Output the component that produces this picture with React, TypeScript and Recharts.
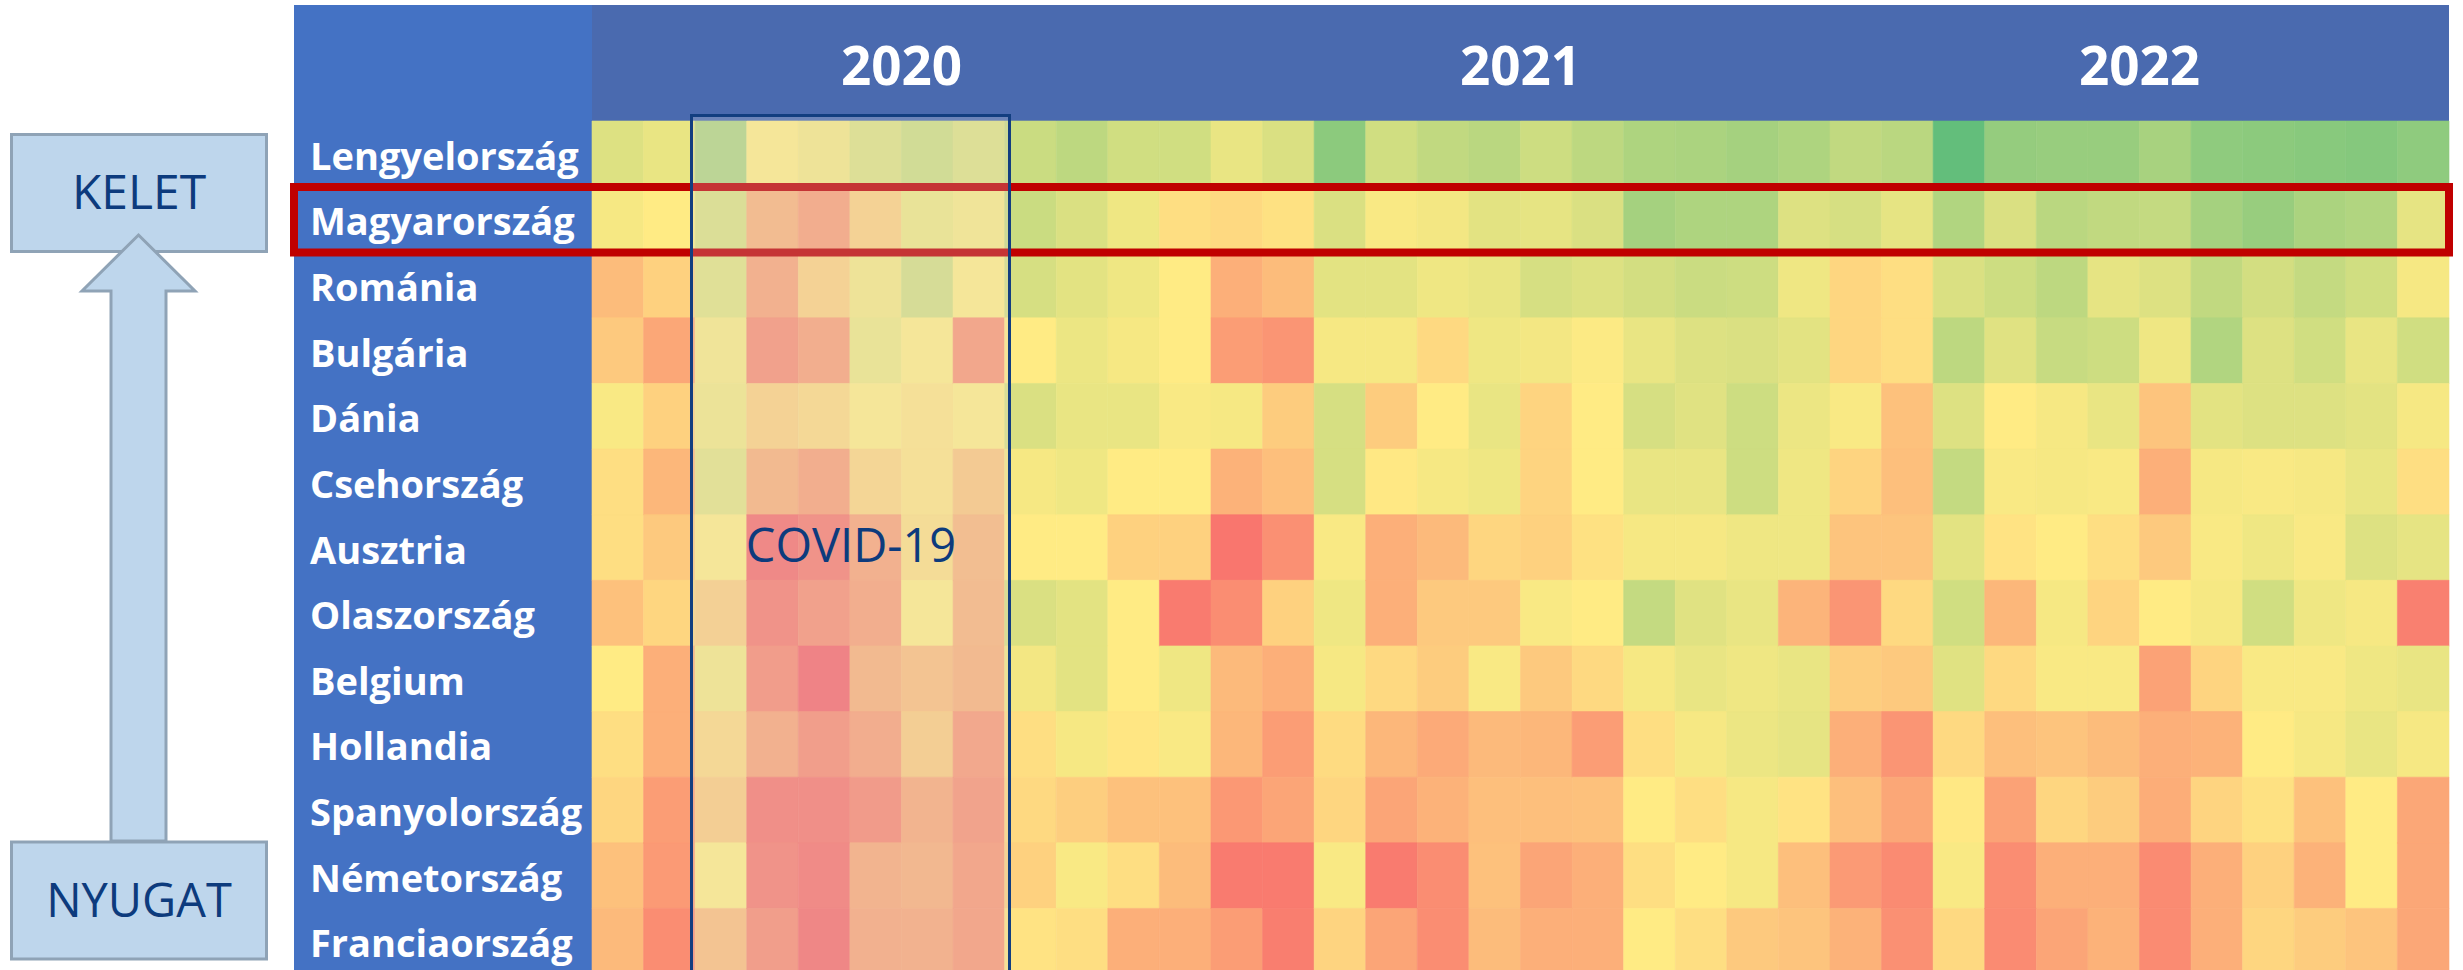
import { Bar, BarChart, Cell, XAxis, YAxis } from 'recharts';

const countries = [
  'Lengyelország',
  'Magyarország',
  'Románia',
  'Bulgária',
  'Dánia',
  'Csehország',
  'Ausztria',
  'Olaszország',
  'Belgium',
  'Hollandia',
  'Spanyolország',
  'Németország',
  'Franciaország',
];

const years = ['2020', '2021', '2022'];
const yearTicks = [6, 18, 30];

// 0 = red, 50 = yellow, 100 = green, Jan 2020 .. Dec 2022
const lengyelorszag = [61, 57, 74, 50, 53, 60, 65, 60, 67, 71, 65, 65, 57, 62, 87, 65, 70, 72, 66, 71, 76, 77, 79, 76, 70, 72, 100, 84, 83, 83, 78, 86, 87, 88, 89, 86];
const magyarorszag = [53, 50, 61, 29, 21, 40, 55, 52, 67, 62, 55, 45, 43, 46, 62, 52, 54, 59, 58, 62, 79, 76, 76, 61, 63, 58, 75, 62, 72, 70, 69, 79, 83, 77, 75, 58];
const romania = [32, 40, 59, 23, 40, 53, 63, 50, 63, 59, 55, 50, 27, 32, 59, 59, 55, 57, 63, 61, 64, 67, 66, 55, 42, 45, 62, 66, 71, 58, 61, 70, 64, 69, 65, 53];
const bulgaria = [37, 24, 52, 15, 22, 55, 50, 18, 50, 56, 53, 50, 20, 17, 53, 53, 43, 55, 54, 51, 57, 61, 62, 59, 42, 45, 71, 60, 68, 66, 55, 75, 61, 65, 57, 65];
const dania = [52, 40, 54, 40, 43, 50, 47, 50, 62, 57, 57, 52, 53, 38, 63, 38, 50, 57, 41, 50, 63, 60, 66, 56, 52, 34, 61, 50, 53, 57, 35, 59, 61, 61, 59, 53];
const csehorszag = [45, 30, 58, 28, 22, 42, 47, 36, 53, 55, 50, 50, 28, 33, 63, 49, 53, 55, 41, 50, 57, 57, 66, 55, 41, 33, 69, 52, 53, 52, 27, 53, 52, 53, 57, 45];
const ausztria = [45, 37, 50, 3, 8, 23, 45, 30, 50, 50, 40, 40, 5, 15, 52, 27, 31, 42, 40, 46, 53, 53, 55, 55, 35, 35, 59, 47, 50, 45, 37, 52, 55, 52, 61, 58];
const olaszorszag = [34, 42, 39, 8, 15, 22, 50, 29, 62, 59, 50, 7, 14, 40, 55, 27, 37, 37, 52, 50, 69, 60, 57, 29, 17, 43, 65, 30, 53, 41, 50, 53, 65, 55, 53, 9];
const belgium = [50, 27, 53, 13, 0, 28, 33, 28, 54, 59, 50, 55, 31, 27, 53, 43, 38, 52, 37, 43, 53, 57, 55, 57, 39, 37, 60, 43, 52, 52, 22, 41, 52, 52, 55, 57];
const hollandia = [45, 27, 43, 23, 14, 21, 38, 19, 45, 53, 48, 52, 30, 20, 44, 30, 25, 31, 30, 20, 45, 53, 56, 58, 27, 17, 43, 33, 35, 32, 27, 28, 50, 53, 57, 53];
const spanyolorszag = [42, 20, 38, 6, 6, 12, 25, 16, 43, 39, 34, 34, 18, 23, 42, 23, 28, 33, 33, 34, 50, 45, 53, 47, 33, 24, 49, 22, 42, 38, 26, 41, 46, 34, 50, 24];
const nemetorszag = [34, 19, 50, 8, 4, 25, 27, 18, 40, 52, 45, 32, 7, 7, 52, 7, 14, 34, 23, 27, 45, 50, 53, 33, 19, 13, 52, 14, 27, 27, 13, 27, 40, 28, 50, 24];
const franciaorszag = [31, 14, 33, 14, 2, 23, 24, 18, 47, 45, 27, 27, 20, 8, 41, 23, 14, 32, 27, 27, 50, 45, 37, 35, 28, 15, 43, 13, 23, 28, 13, 27, 42, 38, 35, 24];

const heatRows = [
  lengyelorszag, magyarorszag, romania, bulgaria, dania, csehorszag, ausztria,
  olaszorszag, belgium, hollandia, spanyolorszag, nemetorszag, franciaorszag,
];

const monthKeys = lengyelorszag.map((_, i) => `m${i}`);

const RED = [248, 105, 107];
const YELLOW = [255, 235, 132];
const GREEN = [99, 190, 123];

function heatColor(v: number) {
  const [a, b, t] = v < 50 ? [RED, YELLOW, v / 50] : [YELLOW, GREEN, (v - 50) / 50];
  const c = a.map((x, i) => Math.round(x + (b[i] - x) * t));
  return `rgb(${c.join(',')})`;
}

const chartData = countries.map((country) => {
  const row: Record<string, string | number> = { country };
  monthKeys.forEach((k) => (row[k] = 1));
  return row;
});

const FONT = "'Open Sans', 'Noto Sans', sans-serif";
const NAVY = '#0D3B7D';

function CountryTick({ y, payload }: any) {
  return (
    <text x={310} y={y + 16} fill="#fff" fontSize={38} fontWeight={700} fontFamily={FONT}>
      {payload.value}
    </text>
  );
}

function YearTick({ x, payload }: any) {
  return (
    <text x={x} y={85} fill="#fff" fontSize={53} fontWeight={700} fontFamily={FONT} textAnchor="middle">
      {years[yearTicks.indexOf(payload.value)]}
    </text>
  );
}

export default function App() {
  return (
    <div
      style={{
        position: 'fixed',
        left: 0,
        top: 0,
        width: 2463,
        height: 970,
        overflow: 'hidden',
        background: '#fff',
      }}
    >
      <div style={{ position: 'absolute', left: 294, top: 5, width: 298, height: 970, background: '#4472C4' }} />
      <div style={{ position: 'absolute', left: 592, top: 5, width: 1857, height: 116, background: '#4A6AAF' }} />
      <div style={{ position: 'absolute', left: 0, top: 0 }}>
        <BarChart
          width={2463}
          height={974}
          data={chartData}
          layout="vertical"
          barCategoryGap={0}
          barGap={0}
          margin={{ top: 5, right: 14, bottom: 0, left: 294 }}
        >
          <XAxis
            type="number"
            orientation="top"
            domain={[0, 36]}
            ticks={yearTicks}
            height={116}
            axisLine={false}
            tickLine={false}
            tick={<YearTick />}
          />
          <YAxis
            type="category"
            dataKey="country"
            width={298}
            axisLine={false}
            tickLine={false}
            tick={<CountryTick />}
          />
          {monthKeys.map((k, m) => (
            <Bar key={k} dataKey={k} stackId="heat" isAnimationActive={false}>
              {heatRows.map((vals, r) => {
                const f = heatColor(vals[m]);
                return <Cell key={r} fill={f} stroke={f} strokeWidth={0.6} />;
              })}
            </Bar>
          ))}
        </BarChart>
      </div>
      <svg
        width={2463}
        height={970}
        style={{ position: 'absolute', left: 0, top: 0, pointerEvents: 'none' }}
      >
        <rect x={294} y={187} width={2155} height={65.5} fill="none" stroke="#C00000" strokeWidth={8} />
        <rect
          x={691.5}
          y={115.5}
          width={318}
          height={870}
          fill="rgb(212,213,216)"
          fillOpacity={0.245}
          stroke="#123E80"
          strokeWidth={3}
        />
        <text x={851} y={562} fill={NAVY} fontSize={47} fontFamily={FONT} textAnchor="middle">
          COVID-19
        </text>

        <rect x={11.5} y={134.5} width={255} height={117} fill="#BED6EC" stroke="#8FA3B6" strokeWidth={3} />
        <polygon
          points="138.5,235 195,291 166,291 166,841 111,841 111,291 82,291"
          fill="#BED6EC"
          stroke="#8FA3B6"
          strokeWidth={3}
        />
        <rect x={11.5} y={842} width={255} height={117} fill="#BED6EC" stroke="#8FA3B6" strokeWidth={3} />
        <text x={139} y={209} fill={NAVY} fontSize={48} fontFamily={FONT} textAnchor="middle">
          KELET
        </text>
        <text x={139} y={917} fill={NAVY} fontSize={47} fontFamily={FONT} textAnchor="middle">
          NYUGAT
        </text>
      </svg>
    </div>
  );
}
